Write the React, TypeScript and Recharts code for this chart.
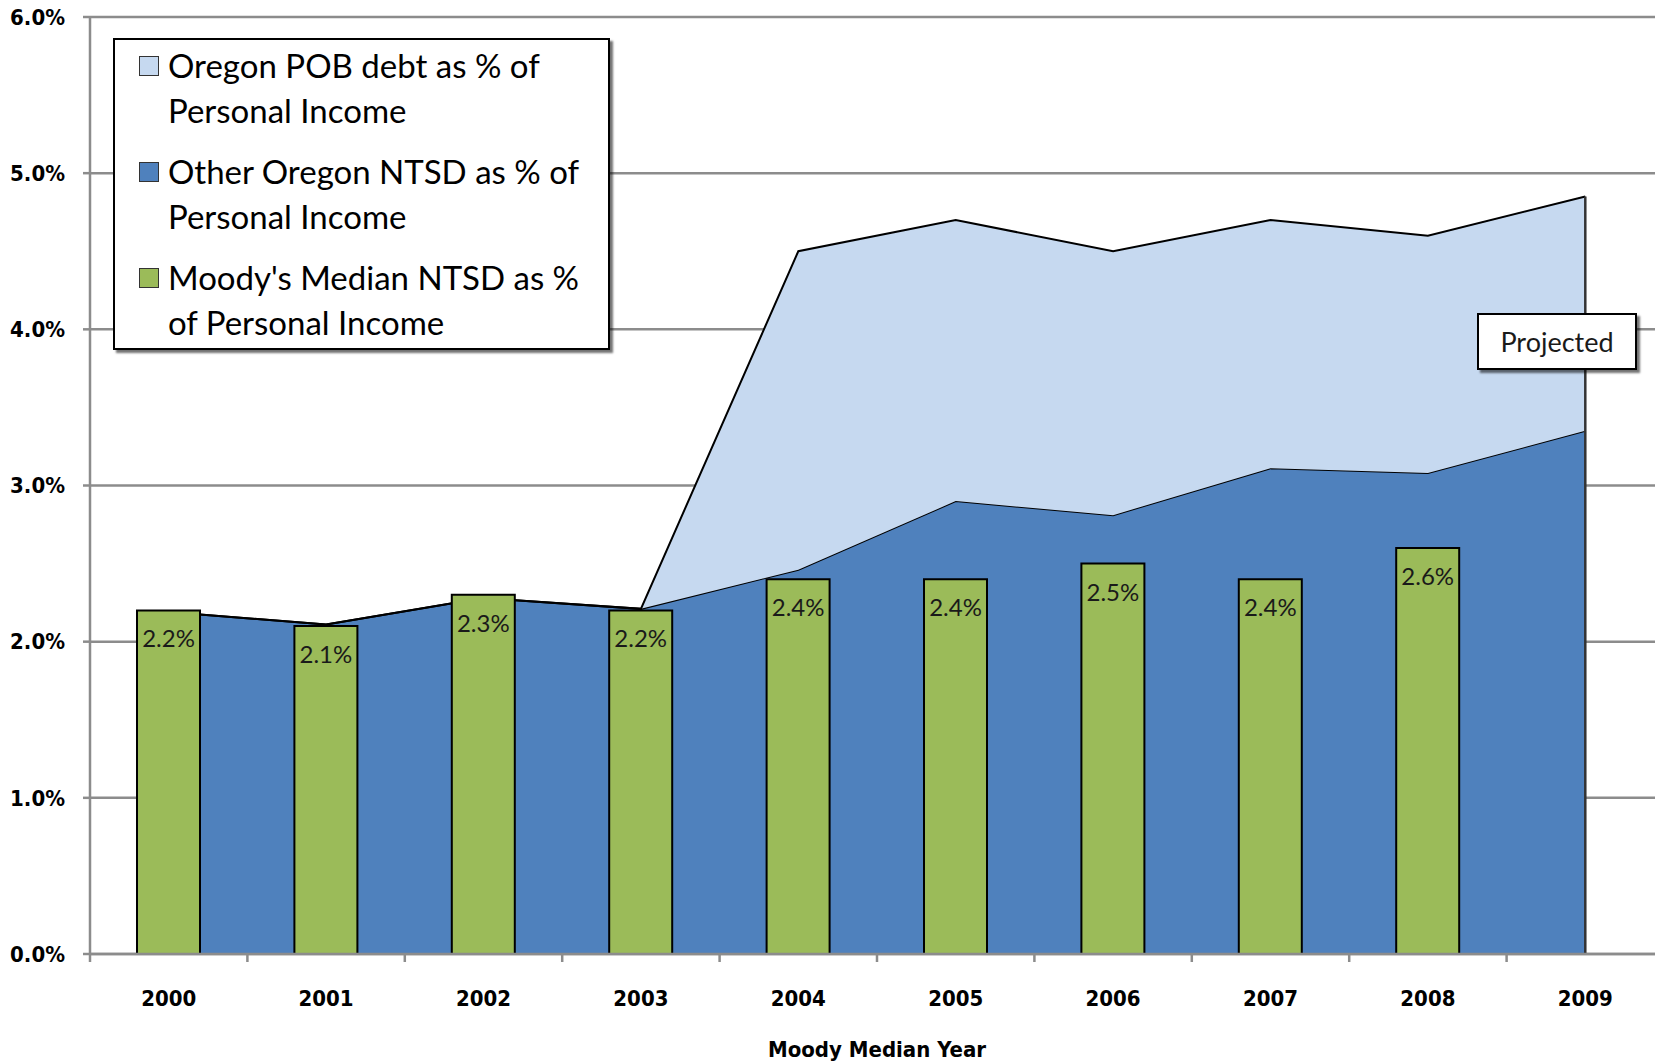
import { ComposedChart, Area, Bar, XAxis, YAxis, CartesianGrid, LabelList, ReferenceLine, Label } from 'recharts';

// --- data ---
const YEARS = ['2000', '2001', '2002', '2003', '2004', '2005', '2006', '2007', '2008', '2009'];
const OTHER_NTSD = [2.19, 2.11, 2.28, 2.21, 2.46, 2.9, 2.81, 3.11, 3.08, 3.35];
const POB_DEBT = [0, 0, 0, 0, 2.04, 1.8, 1.69, 1.59, 1.52, 1.5];
const MOODY_MEDIAN = [2.2, 2.1, 2.3, 2.2, 2.4, 2.4, 2.5, 2.4, 2.6, null];
const Y_TICKS = [0, 1, 2, 3, 4, 5, 6];

const LEGEND = [
  { lines: ['Oregon POB debt as % of', 'Personal Income'], color: '#c6d9f0' },
  { lines: ['Other Oregon NTSD as % of', 'Personal Income'], color: '#4f81bd' },
  { lines: ["Moody's Median NTSD as %", 'of Personal Income'], color: '#9bbb59' },
];

const data = YEARS.map((year, i) => ({
  year,
  other: OTHER_NTSD[i],
  pob: POB_DEBT[i],
  moody: MOODY_MEDIAN[i],
}));

const CHART_W = 1664;
const CHART_H = 1063;
const PLOT_LEFT = 90;
const BAND = (CHART_W - PLOT_LEFT) / YEARS.length;
const GRID = '#8c8c8c';
const AXIS_FONT = "'DejaVu Sans Condensed', 'DejaVu Sans', sans-serif";
const TEXT_FONT = "Lato, 'Open Sans', sans-serif";

const last = YEARS.length - 1;
const total2009 = OTHER_NTSD[last] + POB_DEBT[last];

function YearTick(props: any) {
  const { x, y, payload } = props;
  return (
    <g>
      <line x1={x - BAND / 2} x2={x - BAND / 2} y1={y} y2={y + 8} stroke={GRID} strokeWidth={2.5} />
      <text
        x={x}
        y={y + 46}
        textAnchor="middle"
        dominantBaseline="middle"
        fontFamily={AXIS_FONT}
        fontStretch="condensed"
        fontWeight="bold"
        fontSize={22}
        fill="#000"
      >
        {payload.value}
      </text>
    </g>
  );
}

export default function App() {
  return (
    <div style={{ position: 'fixed', left: 0, top: 0, width: 1655, height: 1063, overflow: 'hidden', background: '#fff' }}>
      <ComposedChart
        width={CHART_W}
        height={CHART_H}
        data={data}
        margin={{ top: 17, right: 0, bottom: 0, left: 0 }}
      >
        <CartesianGrid horizontal vertical={false} stroke={GRID} strokeWidth={2.5} />
        <XAxis
          dataKey="year"
          height={109}
          axisLine={{ stroke: GRID, strokeWidth: 2.5 }}
          tickLine={false}
          tickSize={0}
          tickMargin={0}
          interval={0}
          tick={<YearTick />}
        >
          <Label
            value="Moody Median Year"
            position="insideBottom"
            offset={6}
            style={{ fontFamily: AXIS_FONT, fontStretch: 'condensed', fontWeight: 'bold', fontSize: 22, fill: '#000' }}
          />
        </XAxis>
        <YAxis
          width={PLOT_LEFT}
          domain={[0, 6]}
          ticks={Y_TICKS}
          tickFormatter={(v: number) => v.toFixed(1) + '%'}
          axisLine={{ stroke: GRID, strokeWidth: 2.5 }}
          tickLine={{ stroke: GRID, strokeWidth: 2.5 }}
          tickSize={7}
          tickMargin={18}
          tick={{ fontFamily: AXIS_FONT, fontStretch: 'condensed', fontWeight: 'bold', fontSize: 22, fill: '#000' }}
        />
        <Area
          type="linear"
          dataKey="other"
          stackId="a"
          stroke="#000"
          strokeWidth={2}
          fill="#4f81bd"
          fillOpacity={1}
          isAnimationActive={false}
        />
        <Area
          type="linear"
          dataKey="pob"
          stackId="a"
          stroke="#000"
          strokeWidth={2}
          fill="#c6d9f0"
          fillOpacity={1}
          isAnimationActive={false}
        />
        <ReferenceLine
          segment={[{ x: YEARS[last], y: 0 }, { x: YEARS[last], y: total2009 }]}
          stroke="#333"
          strokeWidth={2.5}
        />
        <Bar dataKey="moody" barSize={63} fill="#9bbb59" stroke="#000" strokeWidth={2} isAnimationActive={false}>
          <LabelList
            dataKey="moody"
            position="insideTop"
            offset={20}
            formatter={(v: any) => (v == null ? '' : Number(v).toFixed(1) + '%')}
            style={{ fontFamily: TEXT_FONT, fontSize: 24, fill: '#1a1a1a' }}
          />
        </Bar>
      </ComposedChart>

      {/* legend */}
      <div
        style={{
          position: 'absolute',
          left: 113,
          top: 38,
          width: 497,
          height: 312,
          boxSizing: 'border-box',
          border: '2px solid #000',
          background: '#fff',
          boxShadow: '3px 3px 2px rgba(0,0,0,0.55)',
          padding: '3px 0 0 24px',
          fontFamily: TEXT_FONT,
          fontSize: 33,
          color: '#000',
        }}
      >
        {LEGEND.map((item) => (
          <div key={item.lines[0]} style={{ position: 'relative', height: 106, paddingLeft: 29 }}>
            <div
              style={{
                position: 'absolute',
                left: 0,
                top: 13,
                width: 18,
                height: 18,
                background: item.color,
                border: '1px solid #333',
              }}
            />
            {item.lines.map((l) => (
              <div key={l} style={{ height: 45, lineHeight: '45px', whiteSpace: 'nowrap' }}>
                {l}
              </div>
            ))}
          </div>
        ))}
      </div>

      {/* annotation */}
      <div
        style={{
          position: 'absolute',
          left: 1477,
          top: 313,
          width: 160,
          height: 57,
          boxSizing: 'border-box',
          border: '2px solid #000',
          background: '#fff',
          boxShadow: '3px 3px 2px rgba(0,0,0,0.55)',
          fontFamily: TEXT_FONT,
          fontSize: 27,
          lineHeight: '53px',
          textAlign: 'center',
          color: '#1a1a1a',
        }}
      >
        Projected
      </div>
    </div>
  );
}
